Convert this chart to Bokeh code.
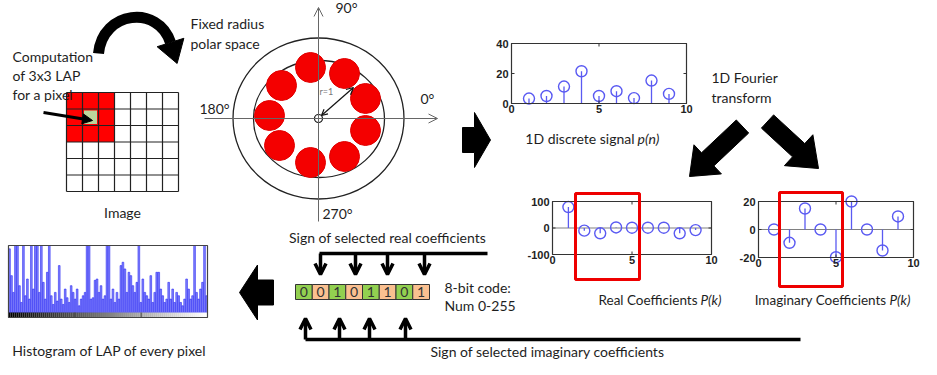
import math
import numpy as np
from bokeh.plotting import figure
from bokeh.models import Range1d, Arrow, OpenHead, NormalHead
from bokeh.core.properties import value
from bokeh.embed import file_html
from bokeh.resources import INLINE

# ---------------- data ----------------
signal_n = [1, 2, 3, 4, 5, 6, 7, 8, 9]
signal_p = [3.3, 5.0, 11.3, 21.5, 5.0, 8.2, 3.6, 15.3, 6.4]
signal_xticks = [0, 5, 10]
signal_yticks = [0, 20, 40]

coef_k = [1, 2, 3, 4, 5, 6, 7, 8, 9]
real_P = [79, -10, -20, 2, 1, 1, 1, -20, -8]
real_yticks = [-100, 0, 100]
imag_P = [0, -9.5, 15, 0, -19.8, 20, 0, -15, 9.3]
imag_yticks = [-20, 0, 20]
coef_xticks = [0, 5, 10]

code_bits = ["0", "0", "1", "0", "1", "1", "0", "1"]

hist_counts = [
    0.95, 0.55, 0.30, 1.20, 1.20, 0.40, 0.15, 1.20, 0.25, 0.50,
    0.20, 1.20, 0.35, 1.20, 1.20, 0.30, 1.20, 0.45, 0.20, 0.60,
    1.20, 0.25, 0.12, 0.30, 0.17, 0.70, 0.20, 0.12, 0.35, 0.22,
    0.15, 0.40, 0.30, 0.20, 0.35, 0.10, 0.20, 0.25, 0.30, 1.20,
    1.20, 0.20, 0.22, 0.48, 0.50, 0.30, 0.40, 0.20, 0.25, 1.20,
    1.20, 0.20, 0.35, 0.15, 0.30, 0.20, 0.70, 0.75, 0.65, 0.30,
    0.60, 0.55, 0.40, 0.30, 0.45, 1.20, 0.15, 0.50, 0.30, 0.25,
    0.20, 0.55, 0.15, 0.30, 0.60, 0.60, 0.35, 0.25, 0.15, 0.20,
    0.45, 0.20, 0.35, 0.15, 0.30, 0.25, 0.15, 0.10, 0.20, 0.50,
    0.35, 0.20, 0.25, 1.20, 0.30, 0.20, 0.35, 0.45, 1.20, 0.25,
]

polar_labels = ["90°", "0°", "180°", "270°"]

# ---------------- canvas ----------------
X0, Y0 = 8, 10
W, H = 921, 359
p = figure(width=W, height=H, x_range=Range1d(X0, X0 + W), y_range=Range1d(Y0 + H, Y0),
           x_axis_type=None, y_axis_type=None, output_backend="svg",
           toolbar_location=None, min_border=0)
p.grid.visible = False
p.outline_line_color = None
p.background_fill_color = "white"

FONT = "Lato"
TXT = "#1e1e1e"
BLUE = "#5a5af2"


def txt(x, y, s, size="14px", align="left", style="normal", color=TXT, font=FONT, baseline="middle"):
    p.text(x=[x], y=[y], text=[s], text_font=value(font), text_font_size=size,
           text_align=align, text_baseline=baseline, text_font_style=style, text_color=color)


def block_arrow(tail, tip, shaft_w, head_w, head_len):
    tx, ty = tail
    hx, hy = tip
    L = math.hypot(hx - tx, hy - ty)
    ux, uy = (hx - tx) / L, (hy - ty) / L
    nx, ny = -uy, ux
    bx, by = hx - ux * head_len, hy - uy * head_len
    xs = [tx + nx * shaft_w / 2, bx + nx * shaft_w / 2, bx + nx * head_w / 2, hx,
          bx - nx * head_w / 2, bx - nx * shaft_w / 2, tx - nx * shaft_w / 2]
    ys = [ty + ny * shaft_w / 2, by + ny * shaft_w / 2, by + ny * head_w / 2, hy,
          by - ny * head_w / 2, by - ny * shaft_w / 2, ty - ny * shaft_w / 2]
    p.patch(xs, ys, fill_color="black", line_color="black", line_width=1)


xr_extra, yr_extra = {}, {}


def panel_ranges(name, box, xlim, ylim):
    px0, px1, pt, pb = box
    sx = (px1 - px0) / (xlim[1] - xlim[0])
    sy = (pb - pt) / (ylim[1] - ylim[0])
    xr_extra[name] = Range1d(xlim[0] - (px0 - X0) / sx, xlim[0] + (X0 + W - px0) / sx)
    yr_extra[name] = Range1d(ylim[0] - (Y0 + H - pb) / sy, ylim[1] + (pt - Y0) / sy)
    p.extra_x_ranges = dict(xr_extra)
    p.extra_y_ranges = dict(yr_extra)
    return sx, sy


def stem_panel(name, box, xlim, ylim, xs, ys, xticks, yticks, baseline):
    sx, sy = panel_ranges(name, box, xlim, ylim)
    kw = dict(x_range_name=name, y_range_name=name)
    if baseline:
        p.segment(x0=[xlim[0]], y0=[0], x1=[xlim[1]], y1=[0], line_color="#808080", line_width=1.2, **kw)
    p.segment(x0=xs, y0=[0] * len(xs), x1=xs, y1=ys, line_color=BLUE, line_width=1.3, **kw)
    p.scatter(x=xs, y=ys, marker="circle", size=11, fill_alpha=0, line_color=BLUE, line_width=1.4, **kw)
    p.quad(left=[xlim[0]], right=[xlim[1]], bottom=[ylim[0]], top=[ylim[1]], fill_alpha=0,
           line_color="#333333", line_width=1.2, **kw)
    tl = 3
    p.segment(x0=xticks, y0=[ylim[0]] * len(xticks), x1=xticks, y1=[ylim[0] + tl / sy] * len(xticks),
              line_color="#333333", **kw)
    p.segment(x0=xticks, y0=[ylim[1]] * len(xticks), x1=xticks, y1=[ylim[1] - tl / sy] * len(xticks),
              line_color="#333333", **kw)
    p.segment(x0=[xlim[0]] * len(yticks), y0=yticks, x1=[xlim[0] + tl / sx] * len(yticks), y1=yticks,
              line_color="#333333", **kw)
    p.segment(x0=[xlim[1]] * len(yticks), y0=yticks, x1=[xlim[1] - tl / sx] * len(yticks), y1=yticks,
              line_color="#333333", **kw)
    p.text(x=[xlim[0]] * len(yticks), y=yticks, text=[str(t) for t in yticks], x_offset=-3,
           text_align="right", text_baseline="middle", text_font=value("Liberation Sans"),
           text_font_size="11px", text_font_style="bold", text_color="#222222", **kw)
    p.text(x=xticks, y=[ylim[0]] * len(xticks), text=[str(t) for t in xticks], y_offset=1,
           text_align="center", text_baseline="top", text_font=value("Liberation Sans"),
           text_font_size="11px", text_font_style="bold", text_color="#222222", **kw)


# ---------------- image grid (top-left) ----------------
gx0, gy0, cw, ch = 74, 102, 16, 16.5
for j in range(3):
    for i in range(3):
        p.quad(left=[gx0 + i * cw], right=[gx0 + (i + 1) * cw], top=[gy0 + j * ch], bottom=[gy0 + (j + 1) * ch],
               fill_color="#ff0000", line_color=None)
p.quad(left=[gx0 + cw + 1.5], right=[gx0 + 2 * cw - 1.5], top=[gy0 + ch + 1.5], bottom=[gy0 + 2 * ch - 1.5],
       fill_color="#bcd79c", line_color=None)
for i in range(8):
    p.line([gx0 + i * cw, gx0 + i * cw], [gy0, gy0 + 6 * ch], line_color="#222222", line_width=1.2)
for j in range(7):
    p.line([gx0, gx0 + 7 * cw], [gy0 + j * ch, gy0 + j * ch], line_color="#222222", line_width=1.2)
p.add_layout(Arrow(end=NormalHead(size=10, fill_color="black", line_color="black"),
                   x_start=51, y_start=122, x_end=100, y_end=130, line_width=2.8, line_color="black"))
txt(20, 66, "Computation")
txt(20, 85, "of 3x3 LAP")
txt(20, 104, "for a pixel")
txt(130, 222, "Image", align="center")

# curved arrow
c_start, c_c0, c_c1, c_end = (106, 63), (110, 20), (166, 14), (178, 52)
p.bezier(x0=[c_start[0]], y0=[c_start[1]], x1=[c_end[0]], y1=[c_end[1]], cx0=[c_c0[0]], cy0=[c_c0[1]],
         cx1=[c_c1[0]], cy1=[c_c1[1]], line_color="black", line_width=11)
dx, dy = c_end[0] - c_c1[0], c_end[1] - c_c1[1]
dl = math.hypot(dx, dy)
ux, uy = dx / dl, dy / dl
nx, ny = -uy, ux
tip = (c_end[0] + ux * 22, c_end[1] + uy * 22)
p.patch([c_end[0] + nx * 14, tip[0], c_end[0] - nx * 14], [c_end[1] + ny * 14, tip[1], c_end[1] - ny * 14],
        fill_color="black", line_color="black")

# ---------------- polar space ----------------
txt(198, 33, "Fixed radius")
txt(198, 53, "polar space")
p.ellipse(x=[326], y=[128], width=[171], height=[161], fill_alpha=0, line_color="#222222", line_width=1.3)
p.ellipse(x=[326.5], y=[128.5], width=[131], height=[117], fill_alpha=0, line_color="#222222", line_width=1.3)
p.add_layout(Arrow(end=OpenHead(size=9, line_color="#666666", line_width=1), x_start=326, y_start=231,
                   x_end=326, y_end=17, line_color="#666666", line_width=1))
p.add_layout(Arrow(end=OpenHead(size=9, line_color="#666666", line_width=1), x_start=212, y_start=128,
                   x_end=445, y_end=128, line_color="#666666", line_width=1))
red_x = [318, 352, 373, 373, 352, 318, 287, 277, 289]
red_y = [77, 83, 108, 140, 166, 172, 155, 125, 95]
p.circle(x=red_x, y=red_y, radius=15, fill_color="#f40000", line_color="#e00000")
p.circle(x=[326], y=[128], radius=4, fill_color="white", line_color="#111111", line_width=1.2)
p.add_layout(Arrow(start=OpenHead(size=6, line_color="#111111", line_width=1.2),
                   end=OpenHead(size=7, line_color="#111111", line_width=1.2),
                   x_start=329, y_start=125, x_end=361, y_end=97, line_color="#111111", line_width=1.2))
txt(327, 101, "r=1", size="9px", color="#777777")
txt(343, 17, polar_labels[0])
txt(428, 108, polar_labels[1])
txt(207, 118, polar_labels[2])
txt(330, 223, polar_labels[3])

block_arrow((470, 149.5), (498, 149.5), 25, 55, 16)

# ---------------- 1D signal ----------------
stem_panel("sig", (519, 694, 53, 113), (0, 10), (0, 40), signal_n, signal_p, signal_xticks, signal_yticks, False)
txt(642, 148, "1D discrete signal", align="right")
txt(645, 148, "p(n)", style="italic")

txt(719, 87, "1D Fourier")
txt(719, 107, "transform")
block_arrow((750, 136), (697, 186), 18, 40, 25)
block_arrow((775, 131), (826, 178), 18, 42, 27)

# ---------------- coefficients ----------------
stem_panel("re", (560, 719, 211, 264), (0, 10), (-100, 100), coef_k, real_P, coef_xticks, real_yticks, True)
stem_panel("im", (766, 921, 211, 267), (0, 10), (-20, 20), coef_k, imag_P, coef_xticks, imag_yticks, True)
p.quad(left=[583], right=[647], top=[203], bottom=[289], fill_alpha=0, line_color="#ee0000", line_width=3)
p.quad(left=[787], right=[850], top=[202], bottom=[296], fill_alpha=0, line_color="#ee0000", line_width=3)
txt(705, 309, "Real Coefficients", align="right", size="13.5px")
txt(708, 309, "P(k)", style="italic", size="13.5px")
txt(894, 309, "Imaginary Coefficients", align="right", size="13.5px")
txt(897, 309, "P(k)", style="italic", size="13.5px")

# ---------------- 8-bit code ----------------
bx0, bw = 303, 16.75
for i, b in enumerate(code_bits):
    p.quad(left=[bx0 + i * bw], right=[bx0 + (i + 1) * bw], top=[294], bottom=[309],
           fill_color="#92d050" if i % 2 == 0 else "#fac090", line_color="#333333", line_width=1)
    txt(bx0 + (i + 0.5) * bw, 301.5, b, align="center", color="#333333")
txt(452, 297, "8-bit code:")
txt(452, 315, "Num 0-255")

txt(395, 247, "Sign of selected real coefficients", align="center")
p.line([327, 495], [263, 263], line_color="black", line_width=3.5)
for ax in [328, 363, 395, 432]:
    p.add_layout(Arrow(end=OpenHead(size=11, line_color="black", line_width=3.5), x_start=ax, y_start=263,
                       x_end=ax, y_end=284, line_color="black", line_width=3.5))
p.line([313, 808], [349, 349], line_color="black", line_width=3.5)
for ax in [313, 347, 377, 413]:
    p.add_layout(Arrow(end=OpenHead(size=11, line_color="black", line_width=3.5), x_start=ax, y_start=349,
                       x_end=ax, y_end=328, line_color="black", line_width=3.5))
txt(555, 361, "Sign of selected imaginary coefficients", align="center")

block_arrow((281, 302), (247, 302), 25, 55, 18)

# ---------------- histogram ----------------
nb = len(hist_counts)
hsx, hsy = panel_ranges("hist", (16, 215, 255, 322), (0, nb), (0, 1))
hk = dict(x_range_name="hist", y_range_name="hist")
hx = [i + 0.5 for i in range(nb)]
p.vbar(x=hx, width=0.85, top=list(np.clip(hist_counts, 0, 1)), bottom=0,
       fill_color="#8585fb", line_color="#2a2af5", line_width=0.6, **hk)
strip_h = 5 / hsy
grey = [int(255 * i / (nb - 1)) for i in range(nb)]
p.quad(left=list(range(nb)), right=[i + 1 for i in range(nb)], top=[0] * nb, bottom=[-strip_h] * nb,
       fill_color=["#%02x%02x%02x" % (g, g, g) for g in grey], line_color=None, **hk)
p.segment(x0=[nb / 3, 2 * nb / 3], y0=[0, 0], x1=[nb / 3, 2 * nb / 3], y1=[-strip_h, -strip_h],
          line_color="#444444", **hk)
p.quad(left=[0], right=[nb], bottom=[-strip_h], top=[1], fill_alpha=0, line_color="#444444", line_width=1.2, **hk)
txt(117, 360, "Histogram of LAP of every pixel", align="center")

open("out.html", "w").write(file_html(p, INLINE))
